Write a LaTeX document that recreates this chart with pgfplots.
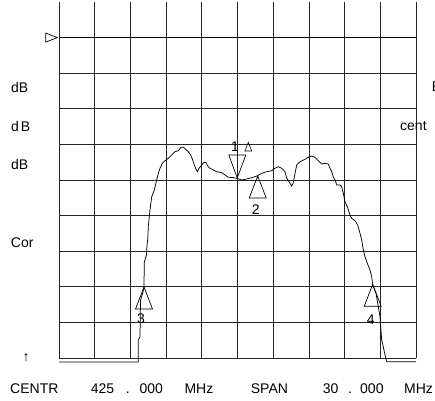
\documentclass[border=0pt]{standalone}
\usepackage{fontspec}
\setmainfont{Liberation Sans}
\usepackage{pgfplots}
\pgfplotsset{compat=1.18}
\pgfdeclareplotmark{mkup}{%
  \pgfpathmoveto{\pgfpoint{0pt}{0pt}}%
  \pgfpathlineto{\pgfpoint{-8.5pt}{-22pt}}%
  \pgfpathlineto{\pgfpoint{8.5pt}{-22pt}}%
  \pgfpathclose\pgfusepathqstroke}
\pgfdeclareplotmark{mkdown}{%
  \pgfpathmoveto{\pgfpoint{0pt}{0pt}}%
  \pgfpathlineto{\pgfpoint{-8.5pt}{23pt}}%
  \pgfpathlineto{\pgfpoint{8.5pt}{23pt}}%
  \pgfpathclose\pgfusepathqstroke}
\pgfdeclareplotmark{mksmall}{%
  \pgfpathmoveto{\pgfpoint{0pt}{0pt}}%
  \pgfpathlineto{\pgfpoint{-3.4pt}{-8.7pt}}%
  \pgfpathlineto{\pgfpoint{3.4pt}{-8.7pt}}%
  \pgfpathclose\pgfusepathqstroke}
\pgfdeclareplotmark{mkref}{%
  \pgfpathmoveto{\pgfpoint{0pt}{0pt}}%
  \pgfpathlineto{\pgfpoint{-11.5pt}{4.5pt}}%
  \pgfpathlineto{\pgfpoint{-11.5pt}{-4.5pt}}%
  \pgfpathclose\pgfusepathqstroke}
\pgfplotstableread{
x y
0.000 -0.11
2.221 -0.11
2.221 0.506
2.269 0.590
2.283 1.629
2.353 1.854
2.381 1.994
2.389 2.697
2.451 2.893
2.465 3.174
2.485 3.315
2.501 3.688
2.549 4.157
2.597 4.531
2.669 4.719
2.737 5.000
2.782 5.188
2.829 5.329
2.894 5.469
2.969 5.542
3.062 5.610
3.157 5.702
3.249 5.795
3.342 5.823
3.417 5.919
3.482 5.919
3.549 5.862
3.622 5.795
3.689 5.702
3.745 5.562
3.790 5.421
3.838 5.301
3.874 5.233
3.922 5.329
3.997 5.421
4.062 5.497
4.118 5.486
4.165 5.393
4.230 5.329
4.322 5.281
4.417 5.233
4.557 5.205
4.650 5.140
4.742 5.076
4.874 5.070
4.994 5.042
5.118 5.000
5.258 5.028
5.398 5.065
5.538 5.112
5.678 5.188
5.818 5.233
5.958 5.261
6.050 5.329
6.143 5.374
6.238 5.329
6.331 5.233
6.378 5.048
6.471 4.907
6.518 4.831
6.563 4.924
6.611 5.188
6.658 5.421
6.751 5.514
6.891 5.581
6.983 5.638
7.078 5.674
7.171 5.638
7.263 5.542
7.359 5.449
7.451 5.469
7.543 5.449
7.591 5.329
7.639 5.233
7.683 5.093
7.751 4.952
7.779 4.860
7.871 4.860
7.919 4.812
7.964 4.626
8.011 4.390
8.076 4.250
8.151 4.017
8.199 3.924
8.291 3.857
8.367 3.736
8.431 3.503
8.479 3.315
8.524 3.034
8.571 2.846
8.636 2.660
8.711 2.472
8.759 2.284
8.787 2.051
8.880 1.817
8.944 1.441
8.992 1.160
9.011 0.879
9.039 0.506
9.084 0.317
9.132 0.084
9.179 -0.104
10.000 -0.104
}\trace
\begin{document}
\begin{tikzpicture}
\begin{axis}[name=ax, scale only axis, width=357pt, height=356pt,
  xmin=0, xmax=10, ymin=0, ymax=10,
  xtick={0,...,10}, ytick={0,...,9},
  xticklabels={}, yticklabels={},
  major tick length=0pt,
  grid=major, grid style={black!85, line width=0.8pt},
  axis line style={draw=none}, clip=false]
\addplot[black, line width=1.3pt] coordinates {(0,9) (10,9)};
\addplot[black, line width=0.75pt] table {\trace};
\addplot[only marks, mark=mkref, mark options={solid, black, line width=0.7pt}] coordinates {(-0.048,9)};
\addplot[only marks, mark=mkdown, mark options={solid, black, line width=0.7pt}] coordinates {(4.994,5.056)};
\addplot[only marks, mark=mkup, mark options={solid, black, line width=0.7pt}] coordinates {(5.566,5.112) (2.381,1.994) (8.787,2.070)};
\addplot[only marks, mark=mksmall, mark options={solid, black, line width=0.6pt}] coordinates {(5.303,6.059)};
\end{axis}
\begin{scope}[shift={(ax.north west)}, x=1pt, y=-1pt, every node/.style={inner sep=0pt, font=\fontsize{14}{16}\selectfont}]
\node[anchor=west] at (-48,85) {dB};
\node[anchor=west] at (-48,124) {d\hspace{2pt}B};
\node[anchor=west] at (-48,162) {dB};
\node[anchor=west] at (-48.3,241) {Cor};
\node[anchor=west] at (372.7,85) {E};
\node[anchor=west] at (341,123.7) {cent};
\node at (-33,355.5) {↑};
\node at (176,144.7) {1};
\node at (196.7,207.3) {2};
\node at (82,316.3) {3};
\node at (311.7,318) {4};
\node[anchor=base west] at (-49,391) {CENTR};
\node[anchor=base west] at (31.7,391) {425};
\node[anchor=base] at (68.7,391) {.};
\node[anchor=base west] at (80.3,391) {000};
\node[anchor=base west] at (125.3,391) {MHz};
\node[anchor=base west] at (191.7,391) {SPAN};
\node[anchor=base west] at (263.7,391) {30};
\node[anchor=base] at (291,391) {.};
\node[anchor=base west] at (301,391) {000};
\node[anchor=base west] at (345,391) {MHz};
\pgfresetboundingbox
\path (-59,-2) rectangle (376,398);
\end{scope}
\end{tikzpicture}
\end{document}
